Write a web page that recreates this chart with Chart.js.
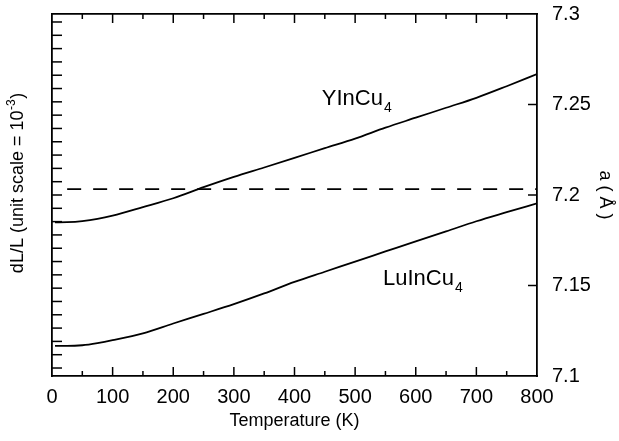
<!DOCTYPE html>
<html>
<head>
<meta charset="utf-8">
<script src="https://cdn.jsdelivr.net/npm/chart.js@4.4.1/dist/chart.umd.min.js"></script>
<style>
  html, body { margin: 0; padding: 0; background: #fff; }
</style>
</head>
<body>
<canvas id="grafico" width="619" height="441"></canvas>
<script>
// Temperaturas (K)
const temperaturas = [5, 25, 50, 75, 100, 150, 200, 250, 300, 350, 400, 450, 500, 550, 600, 650, 700, 750, 800];

// parametro de red a (Angstrom)
const yInCu4 = [7.1849, 7.1850, 7.1856, 7.1868, 7.1886, 7.1933, 7.1982, 7.2043, 7.2100, 7.2152,
                7.2205, 7.2259, 7.2312, 7.2372, 7.2427, 7.2482, 7.2537, 7.2601, 7.2668];
const luInCu4 = [7.1166, 7.1166, 7.1170, 7.1182, 7.1198, 7.1236, 7.1290, 7.1343, 7.1397, 7.1456,
                 7.1520, 7.1576, 7.1632, 7.1688, 7.1744, 7.1799, 7.1855, 7.1905, 7.1954];

// linea horizontal punteada
const lineaTemps = [25, 800];
const lineaValor = 7.2033;

// etiquetas de los ejes
const tempTicks = [0, 100, 200, 300, 400, 500, 600, 700, 800];
const aTicks = [7.1, 7.15, 7.2, 7.25, 7.3];
const aTickLabels = ['7.1', '7.15', '7.2', '7.25', '7.3'];

// rotulos de las curvas: texto, subindice, posicion (T, a)
const rotulos = [
    { texto: 'YInCu', sub: '4', t: 445, a: 7.2497 },
    { texto: 'LuInCu', sub: '4', t: 546, a: 7.1503 }
];

const fuente = "'Liberation Sans', Arial, Helvetica, sans-serif";
Chart.defaults.font.family = fuente;
Chart.defaults.color = '#000';

function serie(xs, ys) {
    return xs.map((x, i) => ({ x: x, y: ys[i] }));
}

// marcas de los ejes hacia adentro
const marcasInternas = {
    id: 'marcasInternas',
    afterDatasetsDraw(chart) {
        const { ctx, chartArea: ca, scales } = chart;
        ctx.save();
        ctx.strokeStyle = '#000';
        ctx.lineWidth = 1.5;
        const linea = (x1, y1, x2, y2) => {
            ctx.beginPath();
            ctx.moveTo(x1, y1);
            ctx.lineTo(x2, y2);
            ctx.stroke();
        };
        // eje x abajo y arriba: mayores cada 100, menores cada 50
        for (let t = 50; t < 800; t += 50) {
            const px = scales.x.getPixelForValue(t);
            const largo = t % 100 === 0 ? 9 : 5;
            linea(px, ca.bottom, px, ca.bottom - largo);
            linea(px, ca.top, px, ca.top + largo);
        }
        // eje izquierdo dL/L
        for (let v = Math.ceil(scales.yLeft.min); v <= scales.yLeft.max; v++) {
            const py = scales.yLeft.getPixelForValue(v);
            linea(ca.left, py, ca.left + 10, py);
        }
        // eje derecho a
        aTicks.forEach(v => {
            if (v > scales.y.min && v < scales.y.max) {
                const py = scales.y.getPixelForValue(v);
                linea(ca.right, py, ca.right - 9, py);
            }
        });
        ctx.restore();
    }
};

// textos: rotulos de curvas y titulo del eje izquierdo
const textos = {
    id: 'textos',
    afterDraw(chart) {
        const { ctx, chartArea: ca, scales } = chart;
        ctx.save();
        ctx.fillStyle = '#000';
        ctx.textBaseline = 'alphabetic';
        ctx.textAlign = 'left';
        rotulos.forEach(r => {
            const px = scales.x.getPixelForValue(r.t);
            const py = scales.y.getPixelForValue(r.a);
            ctx.font = '22px ' + fuente;
            ctx.fillText(r.texto, px, py);
            const w = ctx.measureText(r.texto).width;
            ctx.font = '14px ' + fuente;
            ctx.fillText(r.sub, px + w + 1, py + 7);
        });

        // titulo izquierdo rotado
        const principal = 'dL/L (unit scale = 10';
        const sup = '-3';
        const fin = ')';
        ctx.translate(18, (ca.top + ca.bottom) / 2 - 12);
        ctx.rotate(-Math.PI / 2);
        ctx.textBaseline = 'middle';
        ctx.font = '18px ' + fuente;
        const w1 = ctx.measureText(principal).width;
        const w3 = ctx.measureText(fin).width;
        ctx.font = '12px ' + fuente;
        const w2 = ctx.measureText(sup).width;
        let x0 = -(w1 + w2 + w3 + 1) / 2;
        ctx.font = '18px ' + fuente;
        ctx.fillText(principal, x0, 0);
        ctx.font = '12px ' + fuente;
        ctx.fillText(sup, x0 + w1 + 0.5, -6);
        ctx.font = '18px ' + fuente;
        ctx.fillText(fin, x0 + w1 + w2 + 1, 0);
        ctx.restore();
    }
};

const borde = { display: true, color: '#000', width: 1.8 };
const sinGrid = { display: false, drawTicks: false };

const ctx = document.getElementById('grafico').getContext('2d');
new Chart(ctx, {
    type: 'line',
    data: {
        datasets: [
            {
                label: 'YInCu4',
                data: serie(temperaturas, yInCu4),
                borderColor: '#000',
                borderWidth: 1.8,
                pointRadius: 0,
                cubicInterpolationMode: 'monotone',
                xAxisID: 'x',
                yAxisID: 'y'
            },
            {
                label: 'LuInCu4',
                data: serie(temperaturas, luInCu4),
                borderColor: '#000',
                borderWidth: 1.8,
                pointRadius: 0,
                cubicInterpolationMode: 'monotone',
                xAxisID: 'x',
                yAxisID: 'y'
            },
            {
                label: 'referencia',
                data: lineaTemps.map(t => ({ x: t, y: lineaValor })),
                borderColor: '#000',
                borderWidth: 1.8,
                borderDash: [14, 12],
                pointRadius: 0,
                xAxisID: 'x',
                yAxisID: 'y'
            }
        ]
    },
    options: {
        responsive: false,
        animation: false,
        layout: { padding: 0 },
        plugins: {
            legend: { display: false },
            tooltip: { enabled: false }
        },
        scales: {
            x: {
                type: 'linear',
                position: 'bottom',
                min: 0,
                max: 800,
                grid: sinGrid,
                border: borde,
                afterBuildTicks: s => { s.ticks = tempTicks.map(v => ({ value: v })); },
                ticks: { padding: 9, font: { size: 20 }, maxRotation: 0, autoSkip: false },
                title: { display: true, text: 'Temperature (K)', font: { size: 18 }, padding: { top: 0, bottom: 9 } },
                afterFit: s => { s.height = 65; }
            },
            xTop: {
                type: 'linear',
                position: 'top',
                min: 0,
                max: 800,
                grid: sinGrid,
                border: borde,
                ticks: { display: false },
                afterFit: s => { s.height = 14; }
            },
            y: {
                type: 'linear',
                position: 'right',
                min: 7.1,
                max: 7.3,
                grid: sinGrid,
                border: borde,
                afterBuildTicks: s => { s.ticks = aTicks.map(v => ({ value: v })); },
                ticks: {
                    padding: 15,
                    font: { size: 20 },
                    callback: (valor, i) => aTickLabels[i]
                },
                title: { display: true, text: 'a ( Å )', font: { size: 18 }, padding: { top: 3, bottom: 0 } },
                afterFit: s => {
                    s.width = 82;
                    // que el relleno de las etiquetas no empuje el area del grafico
                    s.paddingTop = 0;
                    s.paddingBottom = 0;
                }
            },
            yLeft: {
                type: 'linear',
                position: 'left',
                min: -13.6,
                max: 13.6,
                grid: sinGrid,
                border: borde,
                ticks: { display: false, stepSize: 1 },
                afterFit: s => {
                    s.width = 52;
                    s.paddingTop = 0;
                    s.paddingBottom = 0;
                }
            }
        }
    },
    plugins: [marcasInternas, textos]
});
</script>
</body>
</html>
